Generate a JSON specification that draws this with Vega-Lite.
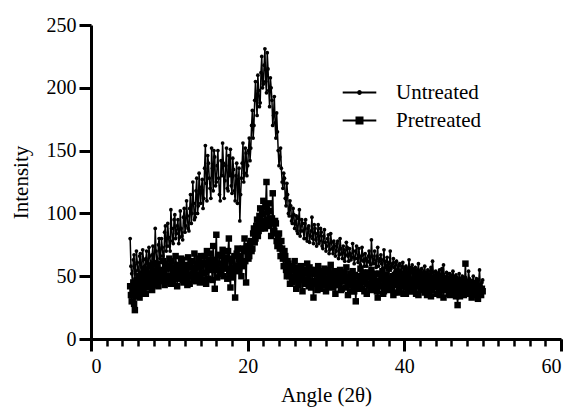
{
  "$schema": "https://vega.github.io/schema/vega-lite/v6.json",
  "autosize": {"type": "none"},
  "padding": {"left": 91, "top": 25, "right": 12, "bottom": 75},
  "width": 470,
  "height": 314,
  "background": "white",
  "config": {"view": {"stroke": null}, "font": "Liberation Serif"},
  "data": {
    "values": [
      {"a":5.0,"Untreated":80,"Pretreated":42},{"a":5.2,"Untreated":52,"Pretreated":30},{"a":5.4,"Untreated":63,"Pretreated":45},{"a":5.6,"Untreated":48,"Pretreated":23},{"a":5.8,"Untreated":70,"Pretreated":38},
      {"a":6.0,"Untreated":55,"Pretreated":47},{"a":6.2,"Untreated":66,"Pretreated":33},{"a":6.4,"Untreated":50,"Pretreated":52},{"a":6.6,"Untreated":71,"Pretreated":40},{"a":6.8,"Untreated":58,"Pretreated":55},
      {"a":7.0,"Untreated":64,"Pretreated":36},{"a":7.2,"Untreated":52,"Pretreated":50},{"a":7.4,"Untreated":73,"Pretreated":44},{"a":7.6,"Untreated":60,"Pretreated":58},{"a":7.8,"Untreated":67,"Pretreated":39},
      {"a":8.0,"Untreated":56,"Pretreated":53},{"a":8.2,"Untreated":88,"Pretreated":45},{"a":8.4,"Untreated":62,"Pretreated":60},{"a":8.6,"Untreated":75,"Pretreated":42},{"a":8.8,"Untreated":64,"Pretreated":55},
      {"a":9.0,"Untreated":80,"Pretreated":47},{"a":9.2,"Untreated":66,"Pretreated":62},{"a":9.4,"Untreated":85,"Pretreated":43},{"a":9.6,"Untreated":70,"Pretreated":56},{"a":9.8,"Untreated":92,"Pretreated":49},
      {"a":10.0,"Untreated":74,"Pretreated":64},{"a":10.2,"Untreated":103,"Pretreated":44},{"a":10.4,"Untreated":78,"Pretreated":57},{"a":10.6,"Untreated":95,"Pretreated":50},{"a":10.8,"Untreated":80,"Pretreated":66},
      {"a":11.0,"Untreated":90,"Pretreated":42},{"a":11.2,"Untreated":76,"Pretreated":58},{"a":11.4,"Untreated":102,"Pretreated":51},{"a":11.6,"Untreated":82,"Pretreated":63},{"a":11.8,"Untreated":97,"Pretreated":45},
      {"a":12.0,"Untreated":85,"Pretreated":59},{"a":12.2,"Untreated":110,"Pretreated":48},{"a":12.4,"Untreated":88,"Pretreated":65},{"a":12.6,"Untreated":104,"Pretreated":44},{"a":12.8,"Untreated":92,"Pretreated":57},
      {"a":13.0,"Untreated":125,"Pretreated":52},{"a":13.2,"Untreated":95,"Pretreated":68},{"a":13.4,"Untreated":118,"Pretreated":46},{"a":13.6,"Untreated":100,"Pretreated":60},{"a":13.8,"Untreated":132,"Pretreated":50},
      {"a":14.0,"Untreated":108,"Pretreated":66},{"a":14.2,"Untreated":127,"Pretreated":47},{"a":14.4,"Untreated":112,"Pretreated":61},{"a":14.6,"Untreated":154,"Pretreated":53},{"a":14.8,"Untreated":110,"Pretreated":70},
      {"a":15.0,"Untreated":140,"Pretreated":48},{"a":15.2,"Untreated":120,"Pretreated":63},{"a":15.4,"Untreated":152,"Pretreated":56},{"a":15.6,"Untreated":118,"Pretreated":74},{"a":15.8,"Untreated":145,"Pretreated":40},
      {"a":16.0,"Untreated":125,"Pretreated":83},{"a":16.2,"Untreated":150,"Pretreated":55},{"a":16.4,"Untreated":115,"Pretreated":67},{"a":16.6,"Untreated":142,"Pretreated":52},{"a":16.8,"Untreated":156,"Pretreated":71},
      {"a":17.0,"Untreated":112,"Pretreated":58},{"a":17.2,"Untreated":138,"Pretreated":65},{"a":17.4,"Untreated":120,"Pretreated":48},{"a":17.6,"Untreated":146,"Pretreated":80},{"a":17.8,"Untreated":151,"Pretreated":41},
      {"a":18.0,"Untreated":116,"Pretreated":62},{"a":18.2,"Untreated":135,"Pretreated":55},{"a":18.4,"Untreated":110,"Pretreated":33},{"a":18.6,"Untreated":140,"Pretreated":68},{"a":18.8,"Untreated":124,"Pretreated":57},
      {"a":19.0,"Untreated":94,"Pretreated":63},{"a":19.2,"Untreated":128,"Pretreated":50},{"a":19.4,"Untreated":156,"Pretreated":72},{"a":19.6,"Untreated":132,"Pretreated":80},{"a":19.8,"Untreated":148,"Pretreated":45},
      {"a":20.0,"Untreated":138,"Pretreated":70},{"a":20.2,"Untreated":160,"Pretreated":66},{"a":20.4,"Untreated":152,"Pretreated":78},{"a":20.6,"Untreated":182,"Pretreated":72},{"a":20.8,"Untreated":170,"Pretreated":88},
      {"a":21.0,"Untreated":205,"Pretreated":80},{"a":21.2,"Untreated":178,"Pretreated":95},{"a":21.4,"Untreated":198,"Pretreated":86},{"a":21.6,"Untreated":188,"Pretreated":104},{"a":21.8,"Untreated":225,"Pretreated":92},
      {"a":22.0,"Untreated":203,"Pretreated":110},{"a":22.2,"Untreated":231,"Pretreated":88},{"a":22.4,"Untreated":196,"Pretreated":125},{"a":22.6,"Untreated":215,"Pretreated":95},{"a":22.8,"Untreated":185,"Pretreated":102},
      {"a":23.0,"Untreated":200,"Pretreated":82},{"a":23.2,"Untreated":170,"Pretreated":116},{"a":23.4,"Untreated":193,"Pretreated":86},{"a":23.6,"Untreated":160,"Pretreated":92},{"a":23.8,"Untreated":165,"Pretreated":74},
      {"a":24.0,"Untreated":138,"Pretreated":84},{"a":24.2,"Untreated":152,"Pretreated":66},{"a":24.4,"Untreated":125,"Pretreated":72},{"a":24.6,"Untreated":132,"Pretreated":58},{"a":24.8,"Untreated":112,"Pretreated":66},
      {"a":25.0,"Untreated":124,"Pretreated":50},{"a":25.2,"Untreated":100,"Pretreated":60},{"a":25.4,"Untreated":110,"Pretreated":44},{"a":25.6,"Untreated":94,"Pretreated":56},{"a":25.8,"Untreated":104,"Pretreated":48},
      {"a":26.0,"Untreated":88,"Pretreated":62},{"a":26.2,"Untreated":98,"Pretreated":40},{"a":26.4,"Untreated":84,"Pretreated":54},{"a":26.6,"Untreated":103,"Pretreated":47},{"a":26.8,"Untreated":86,"Pretreated":58},
      {"a":27.0,"Untreated":92,"Pretreated":38},{"a":27.2,"Untreated":80,"Pretreated":52},{"a":27.4,"Untreated":95,"Pretreated":45},{"a":27.6,"Untreated":78,"Pretreated":60},{"a":27.8,"Untreated":90,"Pretreated":42},
      {"a":28.0,"Untreated":82,"Pretreated":55},{"a":28.2,"Untreated":97,"Pretreated":46},{"a":28.4,"Untreated":76,"Pretreated":33},{"a":28.6,"Untreated":88,"Pretreated":52},{"a":28.8,"Untreated":74,"Pretreated":44},
      {"a":29.0,"Untreated":91,"Pretreated":58},{"a":29.2,"Untreated":78,"Pretreated":40},{"a":29.4,"Untreated":85,"Pretreated":50},{"a":29.6,"Untreated":72,"Pretreated":47},{"a":29.8,"Untreated":87,"Pretreated":56},
      {"a":30.0,"Untreated":70,"Pretreated":38},{"a":30.2,"Untreated":80,"Pretreated":53},{"a":30.4,"Untreated":68,"Pretreated":45},{"a":30.6,"Untreated":84,"Pretreated":59},{"a":30.8,"Untreated":72,"Pretreated":41},
      {"a":31.0,"Untreated":78,"Pretreated":52},{"a":31.2,"Untreated":66,"Pretreated":36},{"a":31.4,"Untreated":76,"Pretreated":50},{"a":31.6,"Untreated":64,"Pretreated":44},{"a":31.8,"Untreated":80,"Pretreated":55},
      {"a":32.0,"Untreated":68,"Pretreated":40},{"a":32.2,"Untreated":74,"Pretreated":51},{"a":32.4,"Untreated":62,"Pretreated":46},{"a":32.6,"Untreated":77,"Pretreated":57},{"a":32.8,"Untreated":66,"Pretreated":35},
      {"a":33.0,"Untreated":72,"Pretreated":49},{"a":33.2,"Untreated":63,"Pretreated":43},{"a":33.4,"Untreated":76,"Pretreated":54},{"a":33.6,"Untreated":60,"Pretreated":38},{"a":33.8,"Untreated":70,"Pretreated":30},
      {"a":34.0,"Untreated":64,"Pretreated":50},{"a":34.2,"Untreated":72,"Pretreated":44},{"a":34.4,"Untreated":59,"Pretreated":56},{"a":34.6,"Untreated":73,"Pretreated":40},{"a":34.8,"Untreated":62,"Pretreated":52},
      {"a":35.0,"Untreated":68,"Pretreated":46},{"a":35.2,"Untreated":58,"Pretreated":36},{"a":35.4,"Untreated":66,"Pretreated":53},{"a":35.6,"Untreated":61,"Pretreated":43},{"a":35.8,"Untreated":79,"Pretreated":55},
      {"a":36.0,"Untreated":60,"Pretreated":39},{"a":36.2,"Untreated":70,"Pretreated":50},{"a":36.4,"Untreated":57,"Pretreated":45},{"a":36.6,"Untreated":73,"Pretreated":33},{"a":36.8,"Untreated":62,"Pretreated":52},
      {"a":37.0,"Untreated":67,"Pretreated":42},{"a":37.2,"Untreated":56,"Pretreated":54},{"a":37.4,"Untreated":71,"Pretreated":38},{"a":37.6,"Untreated":59,"Pretreated":49},{"a":37.8,"Untreated":65,"Pretreated":44},
      {"a":38.0,"Untreated":55,"Pretreated":56},{"a":38.2,"Untreated":70,"Pretreated":40},{"a":38.4,"Untreated":58,"Pretreated":48},{"a":38.6,"Untreated":64,"Pretreated":35},{"a":38.8,"Untreated":54,"Pretreated":51},
      {"a":39.0,"Untreated":62,"Pretreated":43},{"a":39.2,"Untreated":56,"Pretreated":53},{"a":39.4,"Untreated":60,"Pretreated":37},{"a":39.6,"Untreated":52,"Pretreated":47},{"a":39.8,"Untreated":61,"Pretreated":42},
      {"a":40.0,"Untreated":55,"Pretreated":52},{"a":40.2,"Untreated":58,"Pretreated":36},{"a":40.4,"Untreated":51,"Pretreated":49},{"a":40.6,"Untreated":63,"Pretreated":44},{"a":40.8,"Untreated":54,"Pretreated":54},
      {"a":41.0,"Untreated":59,"Pretreated":38},{"a":41.2,"Untreated":50,"Pretreated":47},{"a":41.4,"Untreated":57,"Pretreated":42},{"a":41.6,"Untreated":53,"Pretreated":52},{"a":41.8,"Untreated":60,"Pretreated":35},
      {"a":42.0,"Untreated":49,"Pretreated":46},{"a":42.2,"Untreated":56,"Pretreated":41},{"a":42.4,"Untreated":52,"Pretreated":51},{"a":42.6,"Untreated":58,"Pretreated":37},{"a":42.8,"Untreated":48,"Pretreated":45},
      {"a":43.0,"Untreated":55,"Pretreated":40},{"a":43.2,"Untreated":51,"Pretreated":50},{"a":43.4,"Untreated":57,"Pretreated":34},{"a":43.6,"Untreated":62,"Pretreated":46},{"a":43.8,"Untreated":50,"Pretreated":42},
      {"a":44.0,"Untreated":54,"Pretreated":49},{"a":44.2,"Untreated":47,"Pretreated":36},{"a":44.4,"Untreated":53,"Pretreated":45},{"a":44.6,"Untreated":49,"Pretreated":40},{"a":44.8,"Untreated":56,"Pretreated":50},
      {"a":45.0,"Untreated":59,"Pretreated":33},{"a":45.2,"Untreated":48,"Pretreated":44},{"a":45.4,"Untreated":53,"Pretreated":39},{"a":45.6,"Untreated":46,"Pretreated":48},{"a":45.8,"Untreated":52,"Pretreated":35},
      {"a":46.0,"Untreated":48,"Pretreated":43},{"a":46.2,"Untreated":54,"Pretreated":38},{"a":46.4,"Untreated":45,"Pretreated":47},{"a":46.6,"Untreated":51,"Pretreated":34},{"a":46.8,"Untreated":47,"Pretreated":27},
      {"a":47.0,"Untreated":52,"Pretreated":42},{"a":47.2,"Untreated":44,"Pretreated":37},{"a":47.4,"Untreated":50,"Pretreated":46},{"a":47.6,"Untreated":46,"Pretreated":35},{"a":47.8,"Untreated":49,"Pretreated":60},
      {"a":48.0,"Untreated":43,"Pretreated":40},{"a":48.2,"Untreated":54,"Pretreated":36},{"a":48.4,"Untreated":47,"Pretreated":45},{"a":48.6,"Untreated":44,"Pretreated":33},{"a":48.8,"Untreated":50,"Pretreated":41},
      {"a":49.0,"Untreated":42,"Pretreated":37},{"a":49.2,"Untreated":48,"Pretreated":44},{"a":49.4,"Untreated":45,"Pretreated":32},{"a":49.6,"Untreated":55,"Pretreated":40},{"a":49.8,"Untreated":43,"Pretreated":35},
      {"a":50.0,"Untreated":47,"Pretreated":38},
      {"a":5.1,"Untreated":58,"Pretreated":35},{"a":5.3,"Untreated":45,"Pretreated":40},{"a":5.5,"Untreated":67,"Pretreated":28},{"a":5.7,"Untreated":54,"Pretreated":44},{"a":5.9,"Untreated":61,"Pretreated":34},
      {"a":6.1,"Untreated":49,"Pretreated":50},{"a":6.3,"Untreated":68,"Pretreated":42},{"a":6.5,"Untreated":57,"Pretreated":36},{"a":6.7,"Untreated":63,"Pretreated":48},{"a":6.9,"Untreated":51,"Pretreated":44},
      {"a":7.1,"Untreated":70,"Pretreated":55},{"a":7.3,"Untreated":58,"Pretreated":41},{"a":7.5,"Untreated":66,"Pretreated":52},{"a":7.7,"Untreated":54,"Pretreated":47},{"a":7.9,"Untreated":74,"Pretreated":60},
      {"a":8.1,"Untreated":61,"Pretreated":43},{"a":8.3,"Untreated":70,"Pretreated":51},{"a":8.5,"Untreated":58,"Pretreated":57},{"a":8.7,"Untreated":80,"Pretreated":46},{"a":8.9,"Untreated":66,"Pretreated":50},
      {"a":9.1,"Untreated":73,"Pretreated":54},{"a":9.3,"Untreated":62,"Pretreated":48},{"a":9.5,"Untreated":90,"Pretreated":60},{"a":9.7,"Untreated":74,"Pretreated":45},{"a":9.9,"Untreated":81,"Pretreated":58},
      {"a":10.1,"Untreated":70,"Pretreated":50},{"a":10.3,"Untreated":88,"Pretreated":62},{"a":10.5,"Untreated":76,"Pretreated":46},{"a":10.7,"Untreated":99,"Pretreated":54},{"a":10.9,"Untreated":84,"Pretreated":59},
      {"a":11.1,"Untreated":95,"Pretreated":48},{"a":11.3,"Untreated":81,"Pretreated":55},{"a":11.5,"Untreated":88,"Pretreated":64},{"a":11.7,"Untreated":79,"Pretreated":47},{"a":11.9,"Untreated":104,"Pretreated":56},
      {"a":12.1,"Untreated":90,"Pretreated":52},{"a":12.3,"Untreated":98,"Pretreated":43},{"a":12.5,"Untreated":86,"Pretreated":58},{"a":12.7,"Untreated":115,"Pretreated":50},{"a":12.9,"Untreated":100,"Pretreated":62},
      {"a":13.1,"Untreated":108,"Pretreated":47},{"a":13.3,"Untreated":97,"Pretreated":56},{"a":13.5,"Untreated":128,"Pretreated":51},{"a":13.7,"Untreated":106,"Pretreated":64},{"a":13.9,"Untreated":118,"Pretreated":45},
      {"a":14.1,"Untreated":121,"Pretreated":58},{"a":14.3,"Untreated":104,"Pretreated":52},{"a":14.5,"Untreated":136,"Pretreated":66},{"a":14.7,"Untreated":124,"Pretreated":44},{"a":14.9,"Untreated":146,"Pretreated":60},
      {"a":15.1,"Untreated":128,"Pretreated":55},{"a":15.3,"Untreated":112,"Pretreated":68},{"a":15.5,"Untreated":136,"Pretreated":47},{"a":15.7,"Untreated":150,"Pretreated":58},{"a":15.9,"Untreated":122,"Pretreated":63},
      {"a":16.1,"Untreated":138,"Pretreated":49},{"a":16.3,"Untreated":128,"Pretreated":60},{"a":16.5,"Untreated":110,"Pretreated":54},{"a":16.7,"Untreated":130,"Pretreated":66},{"a":16.9,"Untreated":140,"Pretreated":50},
      {"a":17.1,"Untreated":126,"Pretreated":62},{"a":17.3,"Untreated":152,"Pretreated":56},{"a":17.5,"Untreated":118,"Pretreated":70},{"a":17.7,"Untreated":130,"Pretreated":52},{"a":17.9,"Untreated":122,"Pretreated":64},
      {"a":18.1,"Untreated":144,"Pretreated":49},{"a":18.3,"Untreated":118,"Pretreated":66},{"a":18.5,"Untreated":130,"Pretreated":58},{"a":18.7,"Untreated":108,"Pretreated":72},{"a":18.9,"Untreated":136,"Pretreated":54},
      {"a":19.1,"Untreated":115,"Pretreated":66},{"a":19.3,"Untreated":140,"Pretreated":58},{"a":19.5,"Untreated":125,"Pretreated":70},{"a":19.7,"Untreated":152,"Pretreated":62},{"a":19.9,"Untreated":130,"Pretreated":74},
      {"a":20.1,"Untreated":150,"Pretreated":64},{"a":20.3,"Untreated":142,"Pretreated":76},{"a":20.5,"Untreated":170,"Pretreated":70},{"a":20.7,"Untreated":160,"Pretreated":84},{"a":20.9,"Untreated":190,"Pretreated":77},
      {"a":21.1,"Untreated":190,"Pretreated":90},{"a":21.3,"Untreated":210,"Pretreated":82},{"a":21.5,"Untreated":185,"Pretreated":98},{"a":21.7,"Untreated":212,"Pretreated":88},{"a":21.9,"Untreated":200,"Pretreated":100},
      {"a":22.1,"Untreated":218,"Pretreated":94},{"a":22.3,"Untreated":205,"Pretreated":105},{"a":22.5,"Untreated":228,"Pretreated":90},{"a":22.7,"Untreated":198,"Pretreated":108},{"a":22.9,"Untreated":208,"Pretreated":92},
      {"a":23.1,"Untreated":190,"Pretreated":96},{"a":23.3,"Untreated":178,"Pretreated":84},{"a":23.5,"Untreated":172,"Pretreated":94},{"a":23.7,"Untreated":180,"Pretreated":78},{"a":23.9,"Untreated":150,"Pretreated":82},
      {"a":24.1,"Untreated":145,"Pretreated":72},{"a":24.3,"Untreated":136,"Pretreated":78},{"a":24.5,"Untreated":120,"Pretreated":64},{"a":24.7,"Untreated":128,"Pretreated":70},{"a":24.9,"Untreated":106,"Pretreated":55},
      {"a":25.1,"Untreated":115,"Pretreated":62},{"a":25.3,"Untreated":98,"Pretreated":50},{"a":25.5,"Untreated":106,"Pretreated":58},{"a":25.7,"Untreated":92,"Pretreated":45},{"a":25.9,"Untreated":99,"Pretreated":55},
      {"a":26.1,"Untreated":92,"Pretreated":50},{"a":26.3,"Untreated":86,"Pretreated":57},{"a":26.5,"Untreated":96,"Pretreated":43},{"a":26.7,"Untreated":82,"Pretreated":52},{"a":26.9,"Untreated":95,"Pretreated":48},
      {"a":27.1,"Untreated":86,"Pretreated":55},{"a":27.3,"Untreated":92,"Pretreated":44},{"a":27.5,"Untreated":80,"Pretreated":53},{"a":27.7,"Untreated":88,"Pretreated":47},{"a":27.9,"Untreated":77,"Pretreated":57},
      {"a":28.1,"Untreated":86,"Pretreated":41},{"a":28.3,"Untreated":80,"Pretreated":52},{"a":28.5,"Untreated":91,"Pretreated":46},{"a":28.7,"Untreated":79,"Pretreated":55},{"a":28.9,"Untreated":84,"Pretreated":39},
      {"a":29.1,"Untreated":76,"Pretreated":49},{"a":29.3,"Untreated":88,"Pretreated":54},{"a":29.5,"Untreated":74,"Pretreated":43},{"a":29.7,"Untreated":82,"Pretreated":52},{"a":29.9,"Untreated":77,"Pretreated":45},
      {"a":30.1,"Untreated":74,"Pretreated":48},{"a":30.3,"Untreated":83,"Pretreated":55},{"a":30.5,"Untreated":71,"Pretreated":42},{"a":30.7,"Untreated":77,"Pretreated":50},{"a":30.9,"Untreated":68,"Pretreated":46},
      {"a":31.1,"Untreated":74,"Pretreated":54},{"a":31.3,"Untreated":70,"Pretreated":43},{"a":31.5,"Untreated":78,"Pretreated":48},{"a":31.7,"Untreated":67,"Pretreated":52},{"a":31.9,"Untreated":72,"Pretreated":39},
      {"a":32.1,"Untreated":64,"Pretreated":47},{"a":32.3,"Untreated":71,"Pretreated":53},{"a":32.5,"Untreated":67,"Pretreated":41},{"a":32.7,"Untreated":73,"Pretreated":49},{"a":32.9,"Untreated":62,"Pretreated":45},
      {"a":33.1,"Untreated":68,"Pretreated":52},{"a":33.3,"Untreated":65,"Pretreated":38},{"a":33.5,"Untreated":70,"Pretreated":47},{"a":33.7,"Untreated":64,"Pretreated":51},{"a":33.9,"Untreated":74,"Pretreated":44},
      {"a":34.1,"Untreated":61,"Pretreated":40},{"a":34.3,"Untreated":66,"Pretreated":49},{"a":34.5,"Untreated":63,"Pretreated":45},{"a":34.7,"Untreated":67,"Pretreated":53},{"a":34.9,"Untreated":58,"Pretreated":38},
      {"a":35.1,"Untreated":64,"Pretreated":49},{"a":35.3,"Untreated":62,"Pretreated":44},{"a":35.5,"Untreated":70,"Pretreated":51},{"a":35.7,"Untreated":59,"Pretreated":40},{"a":35.9,"Untreated":66,"Pretreated":47},
      {"a":36.1,"Untreated":63,"Pretreated":43},{"a":36.3,"Untreated":60,"Pretreated":52},{"a":36.5,"Untreated":66,"Pretreated":38},{"a":36.7,"Untreated":58,"Pretreated":46},{"a":36.9,"Untreated":64,"Pretreated":42},
      {"a":37.1,"Untreated":60,"Pretreated":49},{"a":37.3,"Untreated":63,"Pretreated":36},{"a":37.5,"Untreated":57,"Pretreated":45},{"a":37.7,"Untreated":62,"Pretreated":51},{"a":37.9,"Untreated":58,"Pretreated":39},
      {"a":38.1,"Untreated":61,"Pretreated":46},{"a":38.3,"Untreated":56,"Pretreated":42},{"a":38.5,"Untreated":60,"Pretreated":50},{"a":38.7,"Untreated":57,"Pretreated":37},{"a":38.9,"Untreated":61,"Pretreated":45},
      {"a":39.1,"Untreated":55,"Pretreated":49},{"a":39.3,"Untreated":59,"Pretreated":40},{"a":39.5,"Untreated":54,"Pretreated":46},{"a":39.7,"Untreated":58,"Pretreated":51},{"a":39.9,"Untreated":53,"Pretreated":36},
      {"a":40.1,"Untreated":57,"Pretreated":45},{"a":40.3,"Untreated":53,"Pretreated":41},{"a":40.5,"Untreated":56,"Pretreated":48},{"a":40.7,"Untreated":52,"Pretreated":38},{"a":40.9,"Untreated":57,"Pretreated":46},
      {"a":41.1,"Untreated":54,"Pretreated":43},{"a":41.3,"Untreated":56,"Pretreated":50},{"a":41.5,"Untreated":51,"Pretreated":36},{"a":41.7,"Untreated":55,"Pretreated":44},{"a":41.9,"Untreated":52,"Pretreated":48},
      {"a":42.1,"Untreated":55,"Pretreated":39},{"a":42.3,"Untreated":50,"Pretreated":45},{"a":42.5,"Untreated":54,"Pretreated":42},{"a":42.7,"Untreated":51,"Pretreated":49},{"a":42.9,"Untreated":53,"Pretreated":35},
      {"a":43.1,"Untreated":49,"Pretreated":44},{"a":43.3,"Untreated":54,"Pretreated":47},{"a":43.5,"Untreated":50,"Pretreated":39},{"a":43.7,"Untreated":53,"Pretreated":43},{"a":43.9,"Untreated":48,"Pretreated":48},
      {"a":44.1,"Untreated":52,"Pretreated":41},{"a":44.3,"Untreated":50,"Pretreated":46},{"a":44.5,"Untreated":55,"Pretreated":35},{"a":44.7,"Untreated":48,"Pretreated":43},{"a":44.9,"Untreated":51,"Pretreated":39},
      {"a":45.1,"Untreated":50,"Pretreated":46},{"a":45.3,"Untreated":47,"Pretreated":41},{"a":45.5,"Untreated":52,"Pretreated":44},{"a":45.7,"Untreated":49,"Pretreated":36},{"a":45.9,"Untreated":51,"Pretreated":42},
      {"a":46.1,"Untreated":47,"Pretreated":39},{"a":46.3,"Untreated":50,"Pretreated":45},{"a":46.5,"Untreated":46,"Pretreated":37},{"a":46.7,"Untreated":49,"Pretreated":41},{"a":46.9,"Untreated":45,"Pretreated":44},
      {"a":47.1,"Untreated":48,"Pretreated":34},{"a":47.3,"Untreated":46,"Pretreated":42},{"a":47.5,"Untreated":49,"Pretreated":39},{"a":47.7,"Untreated":44,"Pretreated":45},{"a":47.9,"Untreated":47,"Pretreated":36},
      {"a":48.1,"Untreated":45,"Pretreated":43},{"a":48.3,"Untreated":48,"Pretreated":38},{"a":48.5,"Untreated":44,"Pretreated":41},{"a":48.7,"Untreated":46,"Pretreated":35},{"a":48.9,"Untreated":43,"Pretreated":44},
      {"a":49.1,"Untreated":46,"Pretreated":39},{"a":49.3,"Untreated":44,"Pretreated":36},{"a":49.5,"Untreated":47,"Pretreated":42},{"a":49.7,"Untreated":42,"Pretreated":37},{"a":49.9,"Untreated":45,"Pretreated":40}
    ]
  },
  "transform": [{"fold": ["Untreated", "Pretreated"], "as": ["series", "intensity"]}],
  "encoding": {
    "y": {
      "field": "intensity",
      "type": "quantitative",
      "scale": {"domain": [0, 250], "nice": false},
      "axis": {
        "values": [0, 50, 100, 150, 200, 250], "grid": false, "zindex": 1,
        "domainColor": "black", "domainWidth": 3, "tickColor": "black", "tickWidth": 3, "tickSize": 12,
        "labelPadding": 3, "labelFont": "Liberation Serif", "labelFontSize": 20, "labelColor": "black",
        "title": "Intensity", "titlePadding": 15, "titleFont": "Liberation Serif", "titleFontSize": 21, "titleFontWeight": "normal", "titleColor": "black"
      }
    }
  },
  "layer": [
    {
      "transform": [{"filter": "datum.series == 'Untreated'"}],
      "mark": {"type": "line", "color": "black", "strokeWidth": 1.5},
      "encoding": {
        "x": {
          "field": "a", "type": "quantitative",
          "scale": {"domain": [0, 60], "nice": false},
          "axis": {
            "orient": "bottom", "values": [0, 20, 40, 60], "grid": false, "zindex": 1,
            "domainColor": "black", "domainWidth": 3, "tickColor": "black", "tickWidth": 3, "tickSize": 12,
            "labelPadding": 5, "labelFont": "Liberation Serif", "labelFontSize": 20, "labelColor": "black",
            "title": "Angle (2θ)", "titlePadding": 8, "titleFont": "Liberation Serif", "titleFontSize": 21, "titleFontWeight": "normal", "titleColor": "black"
          }
        }
      }
    },
    {
      "transform": [{"filter": "datum.series == 'Untreated'"}],
      "mark": {"type": "point", "shape": "circle", "filled": true, "color": "black", "size": 14, "opacity": 1},
      "encoding": {"x": {"field": "a", "type": "quantitative", "axis": null}}
    },
    {
      "transform": [{"filter": "datum.series == 'Pretreated'"}],
      "mark": {"type": "line", "color": "black", "strokeWidth": 1.6},
      "encoding": {"x": {"field": "a", "type": "quantitative", "axis": null}}
    },
    {
      "transform": [{"filter": "datum.series == 'Pretreated'"}],
      "mark": {"type": "point", "shape": "square", "filled": true, "color": "black", "size": 42, "opacity": 1},
      "encoding": {
        "x": {
          "field": "a", "type": "quantitative",
          "axis": {
            "orient": "bottom", "values": [0,2,4,6,8,10,12,14,16,18,20,22,24,26,28,30,32,34,36,38,40,42,44,46,48,50,52,54,56,58,60],
            "grid": false, "zindex": 1, "tickColor": "black", "tickSize": 7, "tickWidth": 2.5, "labels": false, "domain": false, "title": null
          }
        }
      }
    },
    {
      "transform": [{"filter": "datum.a == 5"}],
      "mark": {"type": "point", "filled": true, "color": "black", "opacity": 0},
      "encoding": {
        "x": {"field": "a", "type": "quantitative", "axis": null},
        "shape": {
          "field": "series", "type": "nominal",
          "scale": {
            "domain": ["Untreated", "Pretreated"],
            "range": [
              "M-2.1,-0.12H2.1V0.12H-2.1Z M0.3,0A0.3,0.3 0 1 1 -0.3,0A0.3,0.3 0 1 1 0.3,0Z",
              "M-2.1,-0.12H2.1V0.12H-2.1Z M-0.5,-0.5H0.5V0.5H-0.5Z"
            ]
          },
          "legend": {
            "title": null,
            "orient": "none",
            "legendX": 258,
            "legendY": 57,
            "padding": 0,
            "symbolSize": 256,
            "symbolFillColor": "black",
            "symbolStrokeColor": "black",
            "symbolStrokeWidth": 0,
            "symbolOpacity": 1,
            "labelFont": "Liberation Serif",
            "labelFontSize": 21,
            "labelColor": "black",
            "labelOffset": 26,
            "rowPadding": 6
          }
        }
      }
    }
  ],
  "resolve": {"axis": {"x": "independent"}}
}
